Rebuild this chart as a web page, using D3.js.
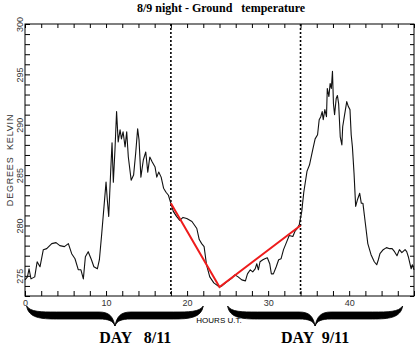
<!DOCTYPE html>
<html>
<head>
<meta charset="utf-8">
<script src="https://cdn.jsdelivr.net/npm/d3@7"></script>
<style>
  html, body { margin: 0; padding: 0; background: #fff; }
  svg { display: block; }
  .tick text { font-family: 'Liberation Sans', Arial, sans-serif; font-size: 9px; fill: #333; }
  .tick line { stroke: #000; }
</style>
</head>
<body>
<div id="chart"></div>
<script>
// ground temperature trace, hours U.T. vs degrees Kelvin
const hours = [
  0, 0.3, 0.5, 0.74, 1.2, 1.5, 1.85, 2.26, 2.68, 3.3, 3.83, 4.3, 4.86, 5.35, 5.76, 6.17,
  6.58, 6.9, 7.2, 7.45, 7.8, 8.2, 8.5, 8.93, 9.18, 9.47, 9.75, 10.0, 10.16, 10.33, 10.58,
  10.74, 10.9, 11.1, 11.3, 11.5, 11.73, 11.9, 12.1, 12.35, 12.55, 12.75, 13.1, 13.4, 13.66,
  13.9, 14.07, 14.3, 14.6, 14.9, 15.15, 15.4, 15.7, 16.05, 16.26, 16.5, 16.8, 17.1, 17.4,
  17.7, 18.0, 18.3, 18.7, 19.1, 19.5, 19.96, 20.6, 21.2, 21.5, 21.8, 22.1, 22.4, 22.8,
  23.3, 24.0, 24.3, 24.9, 25.5, 25.9, 26.3, 26.75, 27.2, 27.45, 27.8, 28.1, 28.4, 28.6,
  28.8, 29.0, 29.35, 29.6, 29.9, 30.2, 30.4, 30.65, 31.0, 31.3, 31.6, 31.9, 32.3, 32.6,
  33.05, 33.3, 33.6, 33.85, 34.15, 34.4, 34.8, 35.1, 35.5, 35.8, 36.1, 36.3, 36.5, 36.67,
  36.8, 37.0, 37.2, 37.3, 37.5, 37.65, 37.8, 37.94, 38.06, 38.2, 38.4, 38.55, 38.7, 38.9,
  39.1, 39.2, 39.4, 39.7, 39.9, 40.1, 40.25, 40.4, 40.6, 40.8, 41.0, 41.3, 41.5, 41.7,
  42.0, 42.3, 42.7, 43.1, 43.4, 43.6, 43.8, 44.2, 44.6, 45.0, 45.3, 45.6, 45.9, 46.2,
  46.5, 46.9, 47.1, 47.3, 47.65, 47.8, 48.0
];
const temps = [
  274.6, 274.9, 275.7, 274.7, 274.9, 276.4, 275.9, 277.6, 277.7, 278.2, 278.3, 278.0, 277.9, 278.2, 277.2, 276.7,
  275.6, 275.6, 274.7, 276.9, 277.4, 276.6, 275.9, 275.7, 276.6, 279.2, 281.9, 284.3, 282.5, 280.9, 285.5,
  288.2, 284.3, 287.5, 291.3, 288.3, 289.5, 288.6, 289.3, 287.8, 289.3, 286.8, 284.5, 285.0, 287.2,
  289.6, 288.5, 284.8, 286.5, 287.3, 285.3, 286.8, 286.3, 285.8, 284.8, 285.3, 284.8, 283.7, 283.3,
  283.0, 282.2, 281.4, 280.9, 280.5, 280.8, 280.7, 280.4, 279.7, 278.6, 278.2, 277.9, 276.1, 274.9,
  274.3, 273.9, 274.0, 274.4, 274.75, 275.1, 274.9, 274.6, 274.5, 275.2, 275.6, 275.4, 275.7, 276.2,
  275.6, 276.4, 276.6, 276.7, 276.8, 276.2, 275.2, 275.2, 275.9, 276.6, 276.7, 277.6, 278.4, 279.0,
  278.9, 279.4, 279.7, 280.1, 281.4, 283.3, 285.4, 286.0, 287.5, 288.6, 289.0, 290.5, 290.8, 291.3,
  290.5, 291.5, 290.8, 293.6, 292.8, 294.1, 293.6, 295.3, 292.1, 291.0, 292.6, 292.9, 292.1, 288.8,
  288.0, 289.8, 290.8, 292.3, 291.8, 291.5, 289.0, 287.8, 285.2, 281.9, 282.5, 283.2, 282.2, 282.2,
  280.2, 278.2, 277.1, 276.4, 276.1, 276.6, 277.2, 277.6, 277.8, 277.7, 277.7, 277.4, 277.0, 277.6,
  277.3, 277.6, 277.4, 276.9, 275.7, 276.1, 275.6
];

// red cooling / warming lines
const trendHours = [18, 24, 34];
const trendTemps = [282.2, 273.9, 280.0];

// dotted markers and day braces
const markerHours = [18, 34];
const dayLabels = ['DAY   8/11', 'DAY  9/11'];
const dayLabelHours = [13.6, 35.8];
const braceHours = [[0.2, 22], [25, 46.6]];

const xTicks = d3.range(0, 49, 2);
const yTicks = d3.range(273, 301, 1);

const props = {
  width: 416,
  height: 346,
  margin: { top: 24, right: 2, bottom: 50, left: 25 },
};

const { margin } = props;
const width = props.width - margin.left - margin.right;
const height = props.height - margin.top - margin.bottom;

const scaleX = d3.scaleLinear().domain([0, 48]).range([0, width]);
const scaleY = d3.scaleLinear().domain([273, 300]).range([height, 0]);

const svg = d3.select('#chart')
  .append('svg')
  .attr('width', props.width)
  .attr('height', props.height);

svg.append('text')
  .attr('x', 221)
  .attr('y', 12)
  .attr('text-anchor', 'middle')
  .style('font-family', "'Liberation Serif', 'Times New Roman', serif")
  .style('font-weight', 'bold')
  .style('font-size', '12px')
  .style('white-space', 'pre')
  .text('8/9 night - Ground   temperature');

const plot = svg.append('g')
  .attr('transform', `translate(${margin.left},${margin.top})`);

const major = d => d % 10 === 0 && d <= 40;

plot.append('g')
  .attr('class', 'axis x bottom')
  .attr('transform', `translate(0,${height})`)
  .call(d3.axisBottom(scaleX).tickValues(xTicks).tickSize(-5).tickPadding(4)
    .tickFormat(d => major(d) ? d : ''))
  .call(g => g.select('.domain').remove());

plot.append('g')
  .attr('class', 'axis x top')
  .call(d3.axisTop(scaleX).tickValues(xTicks).tickSize(-4).tickFormat(''))
  .call(g => g.select('.domain').remove());

plot.append('g')
  .attr('class', 'axis y left')
  .call(d3.axisLeft(scaleY).tickValues(yTicks).tickSize(-5)
    .tickFormat(d => d % 5 === 0 ? d : ''))
  .call(g => g.select('.domain').remove())
  .call(g => g.selectAll('text')
    .attr('x', 0)
    .attr('y', -2)
    .attr('dy', 0)
    .attr('text-anchor', 'middle')
    .attr('transform', 'rotate(-90)'));

plot.append('g')
  .attr('class', 'axis y right')
  .attr('transform', `translate(${width},0)`)
  .call(d3.axisRight(scaleY).tickValues(yTicks).tickSize(-4).tickFormat(''))
  .call(g => g.select('.domain').remove());

plot.append('rect')
  .attr('width', width)
  .attr('height', height)
  .attr('fill', 'none')
  .attr('stroke', '#000')
  .attr('stroke-width', 1);

svg.append('text')
  .attr('transform', `translate(13,${margin.top + scaleY(286.5)}) rotate(-90)`)
  .attr('text-anchor', 'middle')
  .style('font-family', "'Liberation Sans', Arial, sans-serif")
  .style('font-size', '9px')
  .style('letter-spacing', '0.8px')
  .style('fill', '#333')
  .style('white-space', 'pre')
  .text('DEGREES  KELVIN');

plot.selectAll('line.marker')
  .data(markerHours)
  .enter()
  .append('line')
  .attr('class', 'marker')
  .attr('x1', d => scaleX(d))
  .attr('x2', d => scaleX(d))
  .attr('y1', 0)
  .attr('y2', height)
  .attr('stroke', '#000')
  .attr('stroke-width', 1.6)
  .attr('stroke-dasharray', '2,2');

const series = hours.map((h, i) => ({ h, t: temps[i] }));

plot.append('path')
  .datum(series)
  .attr('fill', 'none')
  .attr('stroke', '#111')
  .attr('stroke-width', 1.1)
  .attr('stroke-linejoin', 'round')
  .attr('d', d3.line().x(d => scaleX(d.h)).y(d => scaleY(d.t)));

plot.append('path')
  .datum(trendHours.map((h, i) => ({ h, t: trendTemps[i] })))
  .attr('fill', 'none')
  .attr('stroke', '#ee1c1c')
  .attr('stroke-width', 2)
  .attr('d', d3.line().x(d => scaleX(d.h)).y(d => scaleY(d.t)));

// curly braces under the axis
const bracePath = (x1, x2, y0) => {
  const xm = (x1 + x2) / 2;
  return `M${x1},${y0}` +
    `C${x1 + 2},${y0 + 12} ${x1 + 14},${y0 + 13} ${x1 + 30},${y0 + 13}` +
    `L${xm - 16},${y0 + 13}` +
    `C${xm - 6},${y0 + 13} ${xm - 2},${y0 + 15} ${xm},${y0 + 20}` +
    `C${xm + 2},${y0 + 15} ${xm + 6},${y0 + 13} ${xm + 16},${y0 + 13}` +
    `L${x2 - 30},${y0 + 13}` +
    `C${x2 - 14},${y0 + 13} ${x2 - 2},${y0 + 12} ${x2},${y0}` +
    `C${x2 - 4},${y0 + 6} ${x2 - 14},${y0 + 6} ${x2 - 30},${y0 + 6}` +
    `L${xm + 16},${y0 + 6}` +
    `C${xm + 6},${y0 + 6} ${xm + 2},${y0 + 10} ${xm},${y0 + 20}` +
    `C${xm - 2},${y0 + 10} ${xm - 6},${y0 + 6} ${xm - 16},${y0 + 6}` +
    `L${x1 + 30},${y0 + 6}` +
    `C${x1 + 14},${y0 + 6} ${x1 + 4},${y0 + 6} ${x1},${y0}Z`;
};

plot.selectAll('path.brace')
  .data(braceHours)
  .enter()
  .append('path')
  .attr('class', 'brace')
  .attr('fill', '#000')
  .attr('stroke', '#000')
  .attr('stroke-width', 0.8)
  .attr('d', d => bracePath(scaleX(d[0]), scaleX(d[1]), height + 10));

plot.append('text')
  .attr('x', 194)
  .attr('y', height + 27)
  .attr('text-anchor', 'middle')
  .style('font-family', "'Liberation Sans', Arial, sans-serif")
  .style('font-size', '8px')
  .style('fill', '#000')
  .text('HOURS U.T.');

plot.selectAll('text.day')
  .data(dayLabels)
  .enter()
  .append('text')
  .attr('class', 'day')
  .attr('x', (d, i) => scaleX(dayLabelHours[i]))
  .attr('y', height + 47)
  .attr('text-anchor', 'middle')
  .style('font-family', "'Liberation Serif', 'Times New Roman', serif")
  .style('font-weight', 'bold')
  .style('font-size', '16px')
  .style('white-space', 'pre')
  .text(d => d);
</script>
</body>
</html>
